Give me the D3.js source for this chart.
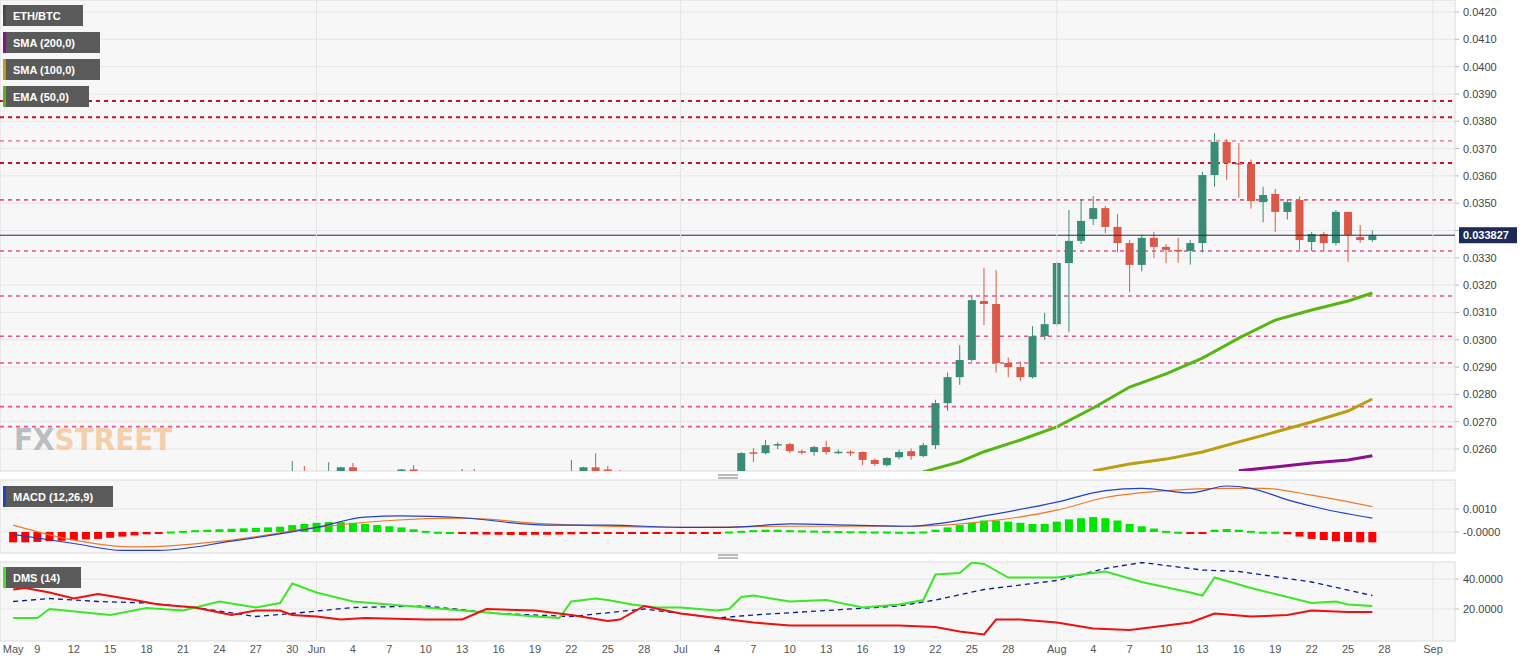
<!DOCTYPE html>
<html>
<head>
<meta charset="utf-8">
<script src="https://cdn.jsdelivr.net/npm/d3@7"></script>
<style>
  body { margin: 0; background: #fff; }
  text { font-family: "Liberation Sans", Arial, sans-serif; }
</style>
</head>
<body>
<svg id="mainsvg" width="1534" height="662"></svg>
<script>
// ---- data ----
// daily candles, [date, open, high, low, close]
const candles = [
  ['2019-05-30', 0.02500, 0.02556, 0.02490, 0.02510],
  ['2019-05-31', 0.02510, 0.02538, 0.02490, 0.02500],
  ['2019-06-02', 0.02500, 0.02552, 0.02490, 0.02510],
  ['2019-06-03', 0.02510, 0.02535, 0.02495, 0.02533],
  ['2019-06-04', 0.02533, 0.02549, 0.02500, 0.02510],
  ['2019-06-08', 0.02500, 0.02527, 0.02490, 0.02525],
  ['2019-06-09', 0.02525, 0.02541, 0.02490, 0.02500],
  ['2019-06-13', 0.02500, 0.02527, 0.02490, 0.02510],
  ['2019-06-14', 0.02510, 0.02527, 0.02490, 0.02500],
  ['2019-06-22', 0.02500, 0.02560, 0.02490, 0.02510],
  ['2019-06-23', 0.02510, 0.02535, 0.02495, 0.02533],
  ['2019-06-24', 0.02533, 0.02585, 0.02500, 0.02515],
  ['2019-06-25', 0.02525, 0.02538, 0.02500, 0.02510],
  ['2019-06-26', 0.02510, 0.02523, 0.02490, 0.02500],
  ['2019-07-06', 0.02500, 0.02588, 0.02495, 0.02585],
  ['2019-07-07', 0.02588, 0.02603, 0.02552, 0.02585],
  ['2019-07-08', 0.02585, 0.02633, 0.02580, 0.02614],
  ['2019-07-09', 0.02614, 0.02625, 0.02600, 0.02618],
  ['2019-07-10', 0.02618, 0.02622, 0.02585, 0.02592],
  ['2019-07-11', 0.02592, 0.02598, 0.02580, 0.02590],
  ['2019-07-12', 0.02589, 0.02612, 0.02575, 0.02607],
  ['2019-07-13', 0.02607, 0.02630, 0.02580, 0.02589],
  ['2019-07-14', 0.02589, 0.02598, 0.02582, 0.02590],
  ['2019-07-15', 0.02590, 0.02596, 0.02575, 0.02587],
  ['2019-07-16', 0.02589, 0.02592, 0.02541, 0.02560],
  ['2019-07-17', 0.02560, 0.02565, 0.02538, 0.02545],
  ['2019-07-18', 0.02541, 0.02570, 0.02536, 0.02567],
  ['2019-07-19', 0.02570, 0.02598, 0.02562, 0.02589],
  ['2019-07-20', 0.02592, 0.02602, 0.02560, 0.02574],
  ['2019-07-21', 0.02574, 0.02622, 0.02570, 0.02614],
  ['2019-07-22', 0.02614, 0.02780, 0.02600, 0.02768],
  ['2019-07-23', 0.02768, 0.02880, 0.02740, 0.02863],
  ['2019-07-24', 0.02863, 0.02980, 0.02835, 0.02926],
  ['2019-07-25', 0.02926, 0.03164, 0.02920, 0.03145],
  ['2019-07-26', 0.03142, 0.03263, 0.03054, 0.03131],
  ['2019-07-27', 0.03131, 0.03255, 0.02880, 0.02915],
  ['2019-07-28', 0.02915, 0.02935, 0.02863, 0.02900],
  ['2019-07-29', 0.02900, 0.02920, 0.02849, 0.02863],
  ['2019-07-30', 0.02863, 0.03050, 0.02858, 0.03013],
  ['2019-07-31', 0.03013, 0.03098, 0.03000, 0.03057],
  ['2019-08-01', 0.03057, 0.03285, 0.03050, 0.03281],
  ['2019-08-02', 0.03281, 0.03475, 0.03028, 0.03362],
  ['2019-08-03', 0.03362, 0.03512, 0.03350, 0.03435],
  ['2019-08-04', 0.03442, 0.03526, 0.03420, 0.03482],
  ['2019-08-05', 0.03482, 0.03490, 0.03390, 0.03413],
  ['2019-08-06', 0.03413, 0.03460, 0.03320, 0.03354],
  ['2019-08-07', 0.03354, 0.03365, 0.03175, 0.03274],
  ['2019-08-08', 0.03274, 0.03385, 0.03250, 0.03373],
  ['2019-08-09', 0.03373, 0.03395, 0.03300, 0.03340],
  ['2019-08-10', 0.03340, 0.03350, 0.03280, 0.03329],
  ['2019-08-11', 0.03329, 0.03373, 0.03282, 0.03325],
  ['2019-08-12', 0.03325, 0.03365, 0.03275, 0.03354],
  ['2019-08-13', 0.03354, 0.03615, 0.03320, 0.03603],
  ['2019-08-14', 0.03603, 0.03757, 0.03560, 0.03724],
  ['2019-08-15', 0.03724, 0.03735, 0.03585, 0.03647],
  ['2019-08-16', 0.03647, 0.03720, 0.03520, 0.03644],
  ['2019-08-17', 0.03644, 0.03660, 0.03480, 0.03508],
  ['2019-08-18', 0.03504, 0.03560, 0.03430, 0.03530],
  ['2019-08-19', 0.03534, 0.03552, 0.03395, 0.03468],
  ['2019-08-20', 0.03468, 0.03515, 0.03440, 0.03504],
  ['2019-08-21', 0.03512, 0.03525, 0.03330, 0.03365],
  ['2019-08-22', 0.03358, 0.03395, 0.03325, 0.03387],
  ['2019-08-23', 0.03387, 0.03395, 0.03325, 0.03354],
  ['2019-08-24', 0.03354, 0.03475, 0.03345, 0.03468],
  ['2019-08-25', 0.03468, 0.03470, 0.03285, 0.03384],
  ['2019-08-26', 0.03376, 0.03420, 0.03355, 0.03365],
  ['2019-08-27', 0.03365, 0.03400, 0.03358, 0.03383]
];
const lastPrice = 0.033827;

const emaDates = ['2019-07-21','2019-07-24','2019-07-26','2019-07-29','2019-08-01','2019-08-04','2019-08-07','2019-08-10','2019-08-13','2019-08-16','2019-08-19','2019-08-22','2019-08-25','2019-08-27'];
const ema50 = [0.02516,0.02553,0.02590,0.02633,0.02681,0.02750,0.02827,0.02875,0.02933,0.03006,0.03072,0.03109,0.03142,0.03171];
const sma100Dates = ['2019-08-04','2019-08-07','2019-08-10','2019-08-13','2019-08-16','2019-08-19','2019-08-22','2019-08-25','2019-08-27'];
const sma100 = [0.02520,0.02545,0.02563,0.02589,0.02626,0.02662,0.02699,0.02739,0.02783];
const sma200Dates = ['2019-08-16','2019-08-19','2019-08-22','2019-08-25','2019-08-27'];
const sma200 = [0.02520,0.02534,0.02549,0.02560,0.02575];

// support / resistance levels [value, kind]
const levels = [[0.03874,'red'],[0.03815,'red'],[0.03728,'light'],[0.03647,'red'],[0.03512,'pink'],
  [0.03325,'pink'],[0.03160,'pink'],[0.03013,'pink'],[0.02915,'pink'],[0.02755,'pink'],[0.02682,'pink']];

// MACD histogram, daily from May 7 (units of 1e-4)
const histStart = '2019-05-07';
const macdHist = [-4.5,-4.5,-4.3,-4,-3.8,-3.5,-3.2,-3,-2.5,-2,-1.5,-1,
  -0.3,0.2,
  0.5,0.8,1,1.2,1.4,1.6,1.8,2,2.3,3,3.5,4,
  4.3,4.3,4,
  3.5,3,2.5,2,1.2,0.5,
  0.1,0,-0.2,
  -1,-1.1,-1.2,-1.3,-1.3,-1.2,-1.2,-1.1,-1,
  -0.8,-0.7,-0.6,-0.8,-0.6,-0.5,-0.5,-0.4,-0.4,-0.3,-0.3,-0.2,
  0.2,0.5,0.8,1,1,0.8,0.7,0.6,0.5,0.4,0.3,0.3,0.2,0.2,0.1,0.1,0.2,
  1,2,3,4,5,5,4.5,4,3.5,3.5,4.5,5.5,6,6.5,
  6,5,3.5,2.5,1.5,0.5,0.1,-0.3,-0.5,
  1,1.3,1,0.5,
  0.1,0.1,
  -1,-2,-3,-3.5,-4,-4.3,-4.5,-4.5];
const macdDates = ['2019-05-07','2019-05-12','2019-05-16','2019-05-19','2019-05-25','2019-06-01','2019-06-05','2019-06-08','2019-06-13','2019-06-20','2019-06-25','2019-07-01','2019-07-05','2019-07-10','2019-07-15','2019-07-20','2019-07-22','2019-07-26','2019-08-01','2019-08-05','2019-08-08','2019-08-12','2019-08-15','2019-08-17','2019-08-20','2019-08-23','2019-08-27'];
const macdLine = [-0.0001,-0.0005,-0.0008,-0.0008,-0.0004,0.0002,0.00065,0.0007,0.00062,0.0003,0.0003,0.0002,0.0002,0.00035,0.0003,0.00025,0.00035,0.0007,0.0013,0.0018,0.0019,0.0017,0.0020,0.0019,0.0014,0.0010,0.0006];
const signalDates = ['2019-05-07','2019-05-12','2019-05-17','2019-05-25','2019-06-01','2019-06-07','2019-06-13','2019-06-20','2019-07-01','2019-07-10','2019-07-20','2019-07-26','2019-08-01','2019-08-05','2019-08-10','2019-08-15','2019-08-18','2019-08-22','2019-08-27'];
const signalLine = [0.0003,-0.00035,-0.00065,-0.00035,0.0002,0.0005,0.0006,0.00035,0.0002,0.00025,0.00025,0.00045,0.00095,0.0015,0.0018,0.0019,0.0019,0.0016,0.0011];

// DMS (14)
const plusDates = ['2019-05-07','2019-05-09','2019-05-10','2019-05-15','2019-05-18','2019-05-21','2019-05-24','2019-05-27','2019-05-29','2019-05-30','2019-06-01','2019-06-04','2019-06-07','2019-06-10','2019-06-13','2019-06-16','2019-06-19','2019-06-21','2019-06-22','2019-06-24','2019-06-25','2019-06-27','2019-06-29','2019-07-01','2019-07-04','2019-07-05','2019-07-06','2019-07-07','2019-07-10','2019-07-13','2019-07-16','2019-07-19','2019-07-21','2019-07-22','2019-07-24','2019-07-25','2019-07-26','2019-07-28','2019-08-01','2019-08-04','2019-08-05','2019-08-08','2019-08-12','2019-08-13','2019-08-14','2019-08-17','2019-08-20','2019-08-22','2019-08-24','2019-08-25','2019-08-27'];
const plusDI = [14,14,20,16,20.7,19,25,21,24,37,31,25,23,21,19,17,15,14,25,27,26,23,21,21,19,20,28,29,25,26,21,23,26,43,44,51,50,41,41,44,45,38,31,29,41,34,28,24,25,23,22];
const minusDates = ['2019-05-07','2019-05-08','2019-05-10','2019-05-12','2019-05-14','2019-05-17','2019-05-19','2019-05-22','2019-05-25','2019-05-27','2019-05-29','2019-05-30','2019-06-01','2019-06-03','2019-06-05','2019-06-10','2019-06-13','2019-06-15','2019-06-19','2019-06-22','2019-06-25','2019-06-26','2019-06-28','2019-07-01','2019-07-04','2019-07-07','2019-07-10','2019-07-13','2019-07-16','2019-07-19','2019-07-22','2019-07-24','2019-07-26','2019-07-27','2019-07-29','2019-08-01','2019-08-04','2019-08-07','2019-08-09','2019-08-12','2019-08-14','2019-08-17','2019-08-20','2019-08-22','2019-08-25','2019-08-27'];
const minusDI = [33,34,31,27,30,26,23,21,16,19,19,16,15,13,14,13,13,20,19,16,12,13,22,17,14,11,9,9,9,9,8,5,3,13,13,11,7,6,8,11,17,15,16,19,18,18];
const adxDates = ['2019-05-07','2019-05-10','2019-05-14','2019-05-18','2019-05-22','2019-05-27','2019-05-30','2019-06-04','2019-06-10','2019-06-16','2019-06-22','2019-06-28','2019-07-04','2019-07-07','2019-07-13','2019-07-19','2019-07-22','2019-07-26','2019-08-01','2019-08-05','2019-08-08','2019-08-13','2019-08-16','2019-08-22','2019-08-27'];
const adx = [25,27,25,24,21,15,17,21,22,17,15,20,14,16,19,22,26,33,39,47,51,46,45,38,29];

const tickDates = ['2019-05-07','2019-05-09','2019-05-12','2019-05-15','2019-05-18','2019-05-21','2019-05-24','2019-05-27','2019-05-30','2019-06-01','2019-06-04','2019-06-07','2019-06-10','2019-06-13','2019-06-16','2019-06-19','2019-06-22','2019-06-25','2019-06-28','2019-07-01','2019-07-04','2019-07-07','2019-07-10','2019-07-13','2019-07-16','2019-07-19','2019-07-22','2019-07-25','2019-07-28','2019-08-01','2019-08-04','2019-08-07','2019-08-10','2019-08-13','2019-08-16','2019-08-19','2019-08-22','2019-08-25','2019-08-28','2019-09-01'];
const tickLabels = ['May','9','12','15','18','21','24','27','30','Jun','4','7','10','13','16','19','22','25','28','Jul','4','7','10','13','16','19','22','25','28','Aug','4','7','10','13','16','19','22','25','28','Sep'];
const priceTicks = [0.0420,0.0410,0.0400,0.0390,0.0380,0.0370,0.0360,0.0350,0.0340,0.0330,0.0320,0.0310,0.0300,0.0290,0.0280,0.0270,0.0260];

// ---- layout ----
const svg = d3.select('svg');
const plotRight = 1455;
const main = { top: 0, bottom: 471 };
const macdP = { top: 480, bottom: 553 };
const dmsP = { top: 562, bottom: 641 };
const parse = d3.utcParse('%Y-%m-%d');

const x = d3.scaleUtc().domain([parse('2019-07-04'), parse('2019-09-01')]).range([717, 1433]);
const y = d3.scaleLinear().domain([0.0420, 0.0260]).range([12, 449]);
const yM = d3.scaleLinear().domain([0.0010, 0]).range([509, 532]);
const yD = d3.scaleLinear().domain([40, 20]).range([579, 609]);

const defs = svg.append('defs');
[['clipMain', main], ['clipMacd', macdP], ['clipDms', dmsP]].forEach(([id, p]) => {
  defs.append('clipPath').attr('id', id).append('rect')
    .attr('x', 0).attr('y', p.top).attr('width', plotRight).attr('height', p.bottom - p.top);
});

// panel backgrounds
[main, macdP, dmsP].forEach(p => {
  svg.append('rect').attr('x', 0).attr('y', p.top).attr('width', plotRight).attr('height', p.bottom - p.top)
    .attr('fill', '#f7f7f7').attr('stroke', '#dcdcdc');
});

// grids
const gMain = svg.append('g').attr('clip-path', 'url(#clipMain)');
gMain.selectAll('.hg').data(priceTicks).join('line')
  .attr('x1', 0).attr('x2', plotRight).attr('y1', d => y(d)).attr('y2', d => y(d))
  .attr('stroke', '#e6e6e6');
const monthLines = ['2019-06-01', '2019-07-01', '2019-08-01', '2019-09-01'].map(parse);
[main, macdP, dmsP].forEach(p => {
  svg.selectAll(null).data(monthLines).join('line')
    .attr('x1', d => x(d)).attr('x2', d => x(d)).attr('y1', p.top).attr('y2', p.bottom)
    .attr('stroke', '#e4e4e4');
});
svg.selectAll(null).data([0.0010, 0]).join('line')
  .attr('x1', 0).attr('x2', plotRight).attr('y1', d => yM(d)).attr('y2', d => yM(d)).attr('stroke', '#e6e6e6');
svg.selectAll(null).data([40, 20]).join('line')
  .attr('x1', 0).attr('x2', plotRight).attr('y1', d => yD(d)).attr('y2', d => yD(d)).attr('stroke', '#e6e6e6');

// watermark
const wm = svg.append('text').attr('x', 14).attr('y', 450)
  .style('font-family', '"DejaVu Sans Condensed", "Liberation Sans Narrow", sans-serif')
  .style('font-size', '31px').style('font-weight', 'bold').attr('opacity', 0.55);
wm.append('tspan').attr('fill', '#8a8f96').text('FX');
wm.append('tspan').attr('fill', '#f0b070').text('STREET');

// levels
const levelColor = { red: '#cc1122', light: '#f08aa8', pink: '#ee4f95' };
gMain.selectAll('.lvl').data(levels).join('line')
  .attr('x1', 0).attr('x2', plotRight).attr('y1', d => y(d[0])).attr('y2', d => y(d[0]))
  .attr('stroke', d => levelColor[d[1]]).attr('stroke-width', d => d[1] === 'red' ? 2 : 1.6)
  .attr('stroke-dasharray', '4,4');

// moving averages
const line = d3.line().x(d => x(parse(d[0]))).y(d => y(d[1]));
[[sma200Dates, sma200, '#8e0f8e'], [sma100Dates, sma100, '#b8a012'], [emaDates, ema50, '#58b516']].forEach(([ds, vs, c]) => {
  gMain.append('path').attr('d', line(ds.map((d, i) => [d, vs[i]])))
    .attr('fill', 'none').attr('stroke', c).attr('stroke-width', 3);
});

// candles
const cw = 8;
const cg = gMain.selectAll('.c').data(candles).join('g');
const col = d => d[4] >= d[1] ? '#3a8c76' : '#db5a47';
cg.append('line')
  .attr('x1', d => x(parse(d[0]))).attr('x2', d => x(parse(d[0])))
  .attr('y1', d => y(d[2])).attr('y2', d => y(d[3])).attr('stroke', col);
cg.append('rect')
  .attr('x', d => x(parse(d[0])) - cw / 2).attr('width', cw)
  .attr('y', d => y(Math.max(d[1], d[4])))
  .attr('height', d => Math.max(1.5, Math.abs(y(d[1]) - y(d[4]))))
  .attr('fill', col);

// last price line
gMain.append('line').attr('x1', 0).attr('x2', plotRight).attr('y1', y(lastPrice)).attr('y2', y(lastPrice))
  .attr('stroke', '#1c2a55').attr('stroke-width', 1);

// MACD
const gMacd = svg.append('g').attr('clip-path', 'url(#clipMacd)');
const h0 = parse(histStart);
gMacd.selectAll('rect').data(macdHist).join('rect')
  .attr('x', (d, i) => x(d3.utcDay.offset(h0, i)) - 4).attr('width', 8)
  .attr('y', d => d >= 0 ? yM(d * 1e-4) : yM(0))
  .attr('height', d => Math.max(2, Math.abs(yM(d * 1e-4) - yM(0))))
  .attr('fill', d => d >= 0 ? '#00e600' : '#ff0000');
const lineM = d3.line().curve(d3.curveMonotoneX).x(d => x(parse(d[0]))).y(d => yM(d[1]));
gMacd.append('path').attr('d', lineM(signalDates.map((d, i) => [d, signalLine[i]])))
  .attr('fill', 'none').attr('stroke', '#f07a28').attr('stroke-width', 1.2);
gMacd.append('path').attr('d', lineM(macdDates.map((d, i) => [d, macdLine[i]])))
  .attr('fill', 'none').attr('stroke', '#2140c8').attr('stroke-width', 1.2);

// DMS
const gDms = svg.append('g').attr('clip-path', 'url(#clipDms)');
const lineD = d3.line().x(d => x(parse(d[0]))).y(d => yD(d[1]));
gDms.append('path').attr('d', lineD(adxDates.map((d, i) => [d, adx[i]])))
  .attr('fill', 'none').attr('stroke', '#0a1c8c').attr('stroke-width', 1.3).attr('stroke-dasharray', '5,4');
gDms.append('path').attr('d', lineD(plusDates.map((d, i) => [d, plusDI[i]])))
  .attr('fill', 'none').attr('stroke', '#3ee62a').attr('stroke-width', 2);
gDms.append('path').attr('d', lineD(minusDates.map((d, i) => [d, minusDI[i]])))
  .attr('fill', 'none').attr('stroke', '#ee1010').attr('stroke-width', 2);

// right axes (labels hidden behind the last-price tag are skipped)
const axisText = (vals, sc, fmt) => {
  svg.append('g').selectAll('text').data(vals.filter(d => sc !== y || Math.abs(y(d) - y(lastPrice)) > 12)).join('text')
    .attr('x', 1463).attr('y', d => sc(d) + 4).attr('fill', '#444').style('font-size', '11px')
    .text(fmt);
  svg.append('g').selectAll('line').data(vals).join('line')
    .attr('x1', plotRight).attr('x2', plotRight + 4).attr('y1', d => sc(d)).attr('y2', d => sc(d)).attr('stroke', '#bbb');
};
axisText(priceTicks, y, d => d3.format('.4f')(d));
axisText([0.0010, 0], yM, d => d === 0 ? '-0.0000' : d3.format('.4f')(d));
axisText([40, 20], yD, d => d3.format('.4f')(d));

// last price label
svg.append('rect').attr('x', 1459).attr('y', y(lastPrice) - 8).attr('width', 58).attr('height', 16).attr('fill', '#1c2a55');
svg.append('text').attr('x', 1463).attr('y', y(lastPrice) + 4).attr('fill', '#fff')
  .style('font-size', '11px').style('font-weight', 'bold').text(lastPrice.toFixed(6));

// bottom axis
svg.append('g').selectAll('text').data(tickDates).join('text')
  .attr('x', d => x(parse(d))).attr('y', 653).attr('text-anchor', 'middle')
  .attr('fill', '#555').style('font-size', '11px')
  .text((d, i) => tickLabels[i]);

// panel separators
[476, 556].forEach(yy => {
  [0, 3].forEach(o => svg.append('line').attr('x1', 718).attr('x2', 738)
    .attr('y1', yy + o - 1).attr('y2', yy + o - 1).attr('stroke', '#777'));
});

// legend boxes
const legend = [
  ['ETH/BTC', 5, 80, '#4a4a4a'],
  ['SMA (200,0)', 32, 97, '#8e0f8e'],
  ['SMA (100,0)', 59, 97, '#b8a012'],
  ['EMA (50,0)', 86, 86, '#58b516'],
  ['MACD (12,26,9)', 486, 110, '#2140c8'],
  ['DMS (14)', 567, 78, '#3ee62a']
];
legend.forEach(([t, top, w, c]) => {
  svg.append('rect').attr('x', 3).attr('y', top).attr('width', w).attr('height', 21).attr('fill', '#5a5a5a');
  svg.append('rect').attr('x', 3).attr('y', top).attr('width', 3).attr('height', 21).attr('fill', c);
  svg.append('text').attr('x', 13).attr('y', top + 15).attr('fill', '#fff')
    .style('font-size', '11px').style('font-weight', 'bold').text(t);
});
</script>
</body>
</html>
